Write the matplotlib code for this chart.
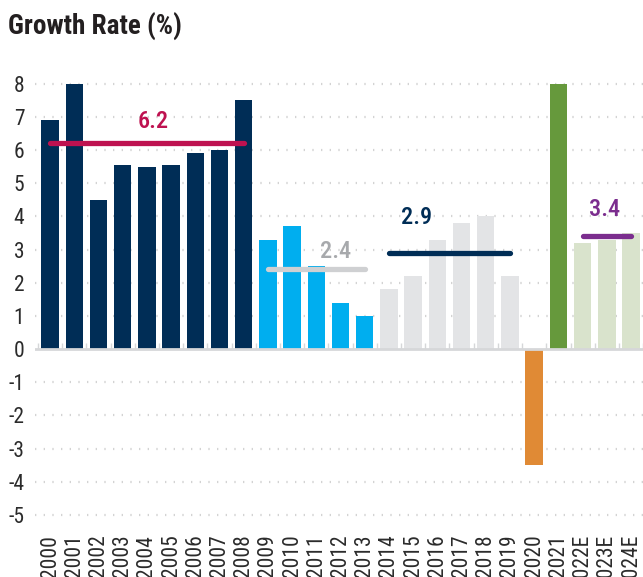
import matplotlib.pyplot as plt
from matplotlib import font_manager

# growth rate by year
years = ['2000', '2001', '2002', '2003', '2004', '2005', '2006', '2007', '2008',
         '2009', '2010', '2011', '2012', '2013',
         '2014', '2015', '2016', '2017', '2018', '2019',
         '2020', '2021', '2022E', '2023E', '2024E']
growth = [6.9, 8.0, 4.5, 5.55, 5.5, 5.55, 5.9, 6.0, 7.5,
          3.3, 3.7, 2.5, 1.4, 1.0,
          1.8, 2.2, 3.3, 3.8, 4.0, 2.2,
          -3.5, 8.0, 3.2, 3.3, 3.5]

navy = '#002d56'
sky = '#00aeef'
lgrey = '#e3e4e6'
orange = '#e08a35'
green = '#66993c'
pale = '#d9e3cc'
bar_colors = [navy] * 9 + [sky] * 5 + [lgrey] * 6 + [orange, green] + [pale] * 3

# period averages
avg_start = [0, 9, 14, 22]
avg_end = [8, 13, 19, 24]
avg_value = [6.2, 2.4, 2.9, 3.4]
avg_line_color = ['#be1250', '#cfd0d2', navy, '#7b2d8e']
avg_text_color = ['#be1250', '#a7a9ac', navy, '#7b2d8e']
avg_label_x = [4.25, 11.8, 15.15, 22.9]
avg_label_y = [6.85, 2.95, 3.95, 4.2]

# the reference uses a condensed font; pick the best one that is installed
fonts = font_manager.fontManager.ttflist
names = {f.name for f in fonts}
narrow = None
for cand in ['Roboto Condensed', 'Liberation Sans Narrow', 'Open Sans Condensed',
             'Noto Sans Condensed', 'DejaVu Sans Condensed']:
    if cand in names:
        narrow = cand
        break
if narrow is None:
    others = sorted(n for n in names if ('Narrow' in n or 'Condensed' in n)
                    and not any(w in n for w in ('Light', 'Thin', 'Black', 'Extra')))
    if others:
        narrow = others[0]
stretch = 'normal'
if narrow is None:
    narrow = 'DejaVu Sans'
    stretch = 'condensed'

plt.rcParams['font.family'] = [narrow, 'DejaVu Sans']
plt.rcParams['font.stretch'] = stretch
plt.rcParams['axes.unicode_minus'] = False

fig = plt.figure(figsize=(6.43, 5.77), dpi=100)
ax = fig.add_axes([0.0552, 0.0901, 0.945, 0.768])

x = list(range(len(years)))
ax.bar(x, growth, width=0.72, color=bar_colors, zorder=2)

# zero line with small ticks between bars
ax.axhline(0, color='#d6d7d9', lw=2, zorder=3)
ax.vlines([i - 0.5 for i in x] + [len(x) - 0.5], 0, 0.18, color='#d6d7d9', lw=1, zorder=3)

for s, e, v, lc, tc, lx, ly in zip(avg_start, avg_end, avg_value, avg_line_color,
                                   avg_text_color, avg_label_x, avg_label_y):
    ax.plot([s, e], [v, v], color=lc, lw=3.8, solid_capstyle='round', zorder=4)
    ax.text(lx, ly, f'{v}', color=tc, fontsize=17.5, fontweight='medium',
            ha='center', va='center', zorder=5)

ax.set_xlim(-0.6, 24.5)
ax.set_ylim(-5.3, 8.05)
ax.set_yticks(range(-5, 9))
ax.set_xticks(x)
ax.set_xticklabels(years, rotation=90)
ax.tick_params(axis='both', length=0, labelsize=15.5, colors='#2b2b2b')
ax.tick_params(axis='y', pad=8)
ax.tick_params(axis='x', pad=7)

ax.yaxis.grid(True, color='#d3d3d3', lw=1.6, linestyle=(0, (0.6, 3.3)))
for v, gl in zip(range(-5, 9), ax.get_ygridlines()):
    if v == 0:
        gl.set_visible(False)
ax.set_axisbelow(True)
for sp in ax.spines.values():
    sp.set_visible(False)

fig.text(0.012, 0.953, 'Growth Rate (%)', fontsize=19.5, fontweight='bold',
         color='#231f20', ha='left', va='center')

fig.savefig('out.png', dpi=100)
